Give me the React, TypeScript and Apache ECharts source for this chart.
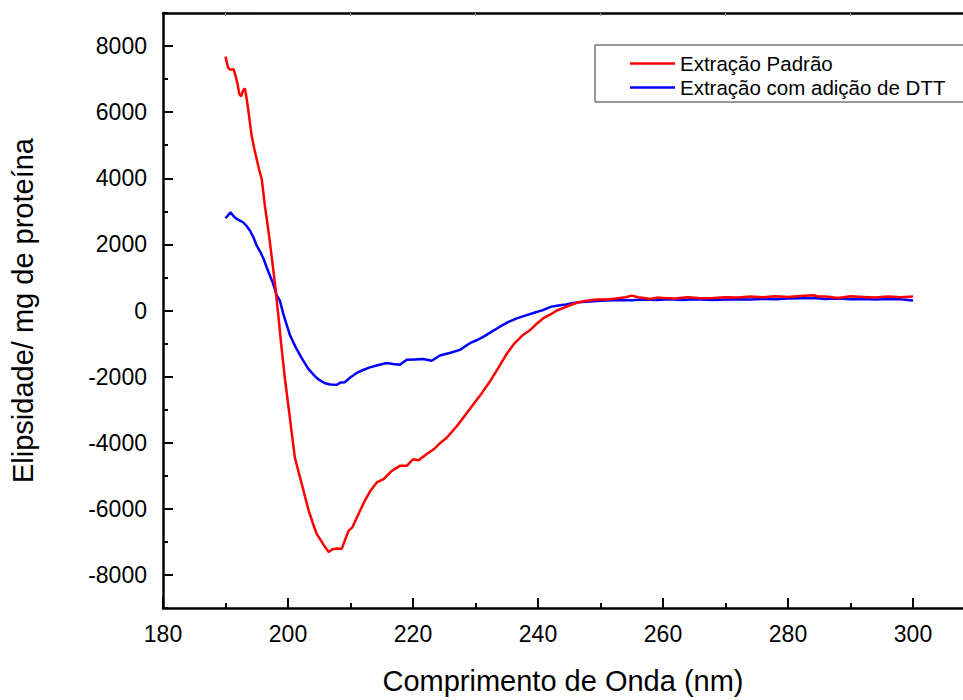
import React, { useEffect, useRef } from "react";
import * as echarts from "echarts";

const seriesNames = ["Extração Padrão", "Extração com adição de DTT"];

const redWavelength = [
  190.0, 190.4, 190.8, 191.3, 191.6, 191.9, 192.2, 192.5, 192.8, 193.1, 193.4, 193.7,
  194.2, 194.6, 195.0, 195.4, 195.8, 196.3, 196.9, 197.5, 198.0, 198.5, 198.9, 199.5,
  200.3, 201.1, 202.2, 203.3, 204.0, 204.6, 205.6, 206.5, 207.1, 207.8, 208.6, 209.2,
  209.7, 210.3, 211.3, 212.3, 213.2, 214.2, 215.3, 216.6, 217.9, 219.0, 220.0, 220.9,
  222.0, 223.3, 224.4, 225.4, 227.0, 228.3, 229.6, 231.0, 232.3, 233.6, 234.9, 236.2,
  237.6, 238.7, 239.8, 240.8, 242.0, 243.0, 244.1, 245.0, 246.0, 246.7, 248.0, 249.5,
  251.0, 252.5, 254.0, 255.0, 256.0, 257.0, 258.0, 259.0, 260.0, 262.0, 264.0, 266.0,
  268.0, 270.0, 272.0, 274.0, 276.0, 278.0, 280.0, 282.0, 284.0, 285.0, 286.0, 288.0,
  290.0, 292.0, 294.0, 296.0, 298.0, 300.0,
];
const redValues = [
  7680, 7350, 7280, 7300, 7100, 6880, 6560, 6480, 6650, 6720, 6400, 5980,
  5270, 4900, 4570, 4250, 3970, 3170, 2370, 1460, 660, -240, -1000, -2050,
  -3250, -4450, -5250, -6050, -6450, -6760, -7060, -7310, -7220, -7200, -7210, -6900,
  -6660, -6560, -6150, -5750, -5450, -5200, -5100, -4850, -4700, -4700, -4500, -4530,
  -4370, -4200, -4000, -3850, -3500, -3180, -2850, -2500, -2150, -1750, -1340, -1000,
  -740, -600, -400, -240, -120, 0, 80, 150, 220, 260, 300, 330,
  330, 360, 400, 450, 400, 380, 350, 390, 380, 360, 400, 370,
  380, 400, 390, 420, 400, 430, 410, 440, 460, 420, 420, 380,
  430, 410, 390, 420, 400, 420,
];

const blueWavelength = [
  190.0, 190.8, 191.3, 191.8, 192.3, 192.8, 193.4, 193.9, 194.5, 195.0, 195.6, 196.1,
  196.6, 197.1, 197.6, 198.2, 198.7, 199.3, 200.3, 201.2, 202.2, 203.2, 204.3, 205.0,
  205.9, 206.8, 207.8, 208.4, 209.1, 210.0, 211.0, 212.0, 213.1, 214.5, 215.8, 216.8,
  217.9, 219.0, 220.3, 221.6, 223.0, 224.3, 226.0, 227.5, 229.1, 230.2, 231.3, 232.6,
  233.9, 235.2, 236.6, 238.2, 239.5, 240.8, 242.0, 243.5, 244.5, 245.6, 247.0, 249.4,
  251.0, 253.0, 255.0, 257.0, 259.0, 261.0, 263.0, 265.0, 268.0, 270.0, 272.0, 274.0,
  276.0, 278.0, 280.0, 282.0, 284.0, 286.0, 288.0, 290.0, 292.0, 294.0, 296.0, 298.0,
  300.0,
];
const blueValues = [
  2790, 2970, 2850, 2770, 2720, 2670, 2550, 2420, 2200, 1960, 1760, 1560,
  1300, 1060, 820, 460, 300, -140, -740, -1100, -1440, -1750, -1990, -2100,
  -2200, -2240, -2250, -2180, -2170, -2020, -1890, -1800, -1720, -1650, -1590, -1620,
  -1640, -1490, -1480, -1470, -1520, -1360, -1280, -1190, -990, -900, -790, -640,
  -490, -350, -240, -140, -60, 10, 110, 160, 180, 230, 260, 290,
  300, 320, 310, 330, 320, 340, 320, 340, 320, 330, 340, 330,
  350, 340, 360, 370, 380, 350, 360, 340, 350, 330, 350, 340,
  300,
];

const xMajorTicks = [180, 200, 220, 240, 260, 280, 300];
const xMinorTicks = [190, 210, 230, 250, 270, 290];
const yMajorTicks = [-8000, -6000, -4000, -2000, 0, 2000, 4000, 6000, 8000];
const yMinorTicks = [-9000, -7000, -5000, -3000, -1000, 1000, 3000, 5000, 7000, 9000];

const FONT = "'Liberation Sans', Arial, sans-serif";

export default function App() {
  const ref = useRef<HTMLDivElement>(null);
  useEffect(() => {
    if (!ref.current) return;
    const chart = echarts.init(ref.current, undefined, { renderer: "svg" });
    const axisLine = { show: true, onZero: false, lineStyle: { color: "#000", width: 2.5 } };
    const xBase = { type: "value", min: 180, max: 308, splitLine: { show: false } };
    const yBase = { type: "value", min: -9000, max: 9000, splitLine: { show: false } };
    const redData = redWavelength.map((w, i) => [w, redValues[i]]);
    const blueData = blueWavelength.map((w, i) => [w, blueValues[i]]);
    const plain = (v: number) => String(v);
    chart.setOption({
      animation: false,
      backgroundColor: "#fff",
      grid: { left: 163, right: 0, top: 13, bottom: 88, containLabel: false },
      legend: {
        orient: "vertical",
        left: 595,
        top: 45,
        data: seriesNames,
        icon: "rect",
        itemWidth: 45,
        itemHeight: 2.5,
        itemGap: 3,
        padding: [8, 20, 4, 35],
        borderColor: "#333",
        borderWidth: 1,
        textStyle: { fontFamily: FONT, fontSize: 20.5, color: "#000" },
      },
      xAxis: [
        {
          ...xBase,
          position: "bottom",
          axisLine,
          axisTick: { show: true, inside: true, length: 10, customValues: xMajorTicks, lineStyle: { width: 2, color: "#000" } },
          axisLabel: { customValues: xMajorTicks, formatter: plain, margin: 14, fontFamily: FONT, fontSize: 23, color: "#000" },
          name: "Comprimento de Onda (nm)",
          nameLocation: "middle",
          nameGap: 58,
          nameTextStyle: { fontFamily: FONT, fontSize: 29, color: "#000" },
        },
        {
          ...xBase,
          position: "bottom",
          axisLine: { show: false, onZero: false },
          axisTick: { show: true, inside: true, length: 5, customValues: xMinorTicks, lineStyle: { width: 2, color: "#000" } },
          axisLabel: { show: false },
        },
        {
          ...xBase,
          position: "top",
          axisLine,
          axisTick: { show: true, inside: true, length: 3, customValues: xMinorTicks, lineStyle: { width: 1, color: "#999" } },
          axisLabel: { show: false },
        },
      ],
      yAxis: [
        {
          ...yBase,
          position: "left",
          axisLine,
          axisTick: { show: true, inside: true, length: 10, customValues: yMajorTicks, lineStyle: { width: 2, color: "#000" } },
          axisLabel: { customValues: yMajorTicks, formatter: plain, margin: 16, fontFamily: FONT, fontSize: 23, color: "#000" },
          name: "Elipsidade/ mg de proteína",
          nameLocation: "middle",
          nameGap: 126,
          nameRotate: 90,
          nameTextStyle: { fontFamily: FONT, fontSize: 29, color: "#000" },
        },
        {
          ...yBase,
          position: "left",
          axisLine: { show: false, onZero: false },
          axisTick: { show: true, inside: true, length: 5, customValues: yMinorTicks, lineStyle: { width: 2, color: "#000" } },
          axisLabel: { show: false },
        },
      ],
      series: [
        {
          name: seriesNames[0],
          type: "line",
          data: redData,
          showSymbol: false,
          symbol: "none",
          lineStyle: { color: "#ff0000", width: 2.5 },
          itemStyle: { color: "#ff0000" },
          z: 3,
        },
        {
          name: seriesNames[1],
          type: "line",
          data: blueData,
          showSymbol: false,
          symbol: "none",
          lineStyle: { color: "#0000ff", width: 2.5 },
          itemStyle: { color: "#0000ff" },
          z: 2,
        },
      ],
    });
    return () => chart.dispose();
  }, []);
  return (
    <div
      ref={ref}
      style={{ position: "fixed", left: 0, top: 0, width: 963, height: 700, background: "#fff" }}
    />
  );
}
